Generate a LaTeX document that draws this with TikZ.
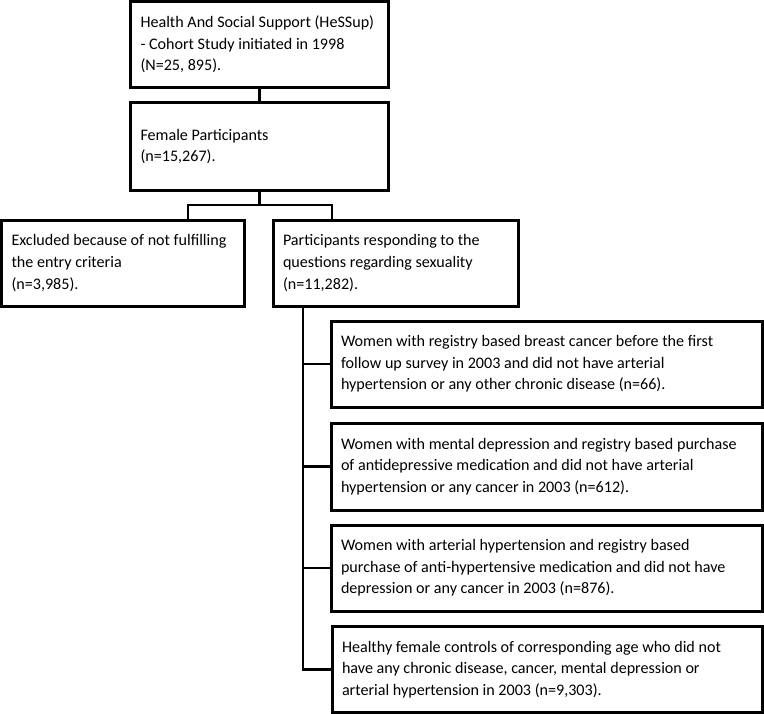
\documentclass[tikz,border=0pt]{standalone}
\usepackage{fontspec}
\setmainfont{Carlito}
\begin{document}
\begin{tikzpicture}[x=1bp,y=-1bp,
  box/.style={draw,line width=3bp,outer sep=0pt,anchor=north west,align=flush left,
    inner xsep=10bp,inner ysep=0pt,font=\fontsize{16.1bp}{21.6bp}\selectfont},
  link/.style={line width=2.6bp}]
\useasboundingbox (0,0) rectangle (764,714);

\node[box,text width=238bp,minimum height=86bp] (hessup) at (130.5,1.5)
  {Health And Social Support (HeSSup)\\- Cohort Study initiated in 1998\\(N=25, 895).};
\node[box,text width=238bp,minimum height=87bp] (female) at (130.5,103)
  {Female Participants\\(n=15,267).};

\node[box,text width=222.5bp,minimum height=86bp] (excl) at (1.5,220)
  {Excluded because of not fulfilling\\the entry criteria\\(n=3,985).};
\node[box,text width=225bp,minimum height=86bp] (resp) at (273,220)
  {Participants responding to the\\questions regarding sexuality\\(n=11,282).};

\node[box,text width=411.5bp,minimum height=86bp] (bc) at (331,321)
  {Women with registry based breast cancer before the first\\follow up survey in 2003 and did not have arterial\\hypertension or any other chronic disease (n=66).};
\node[box,text width=411.5bp,minimum height=87bp] (dep) at (331,423)
  {Women with mental depression and registry based purchase\\of antidepressive medication and did not have arterial\\hypertension or any cancer in 2003 (n=612).};
\node[box,text width=411.5bp,minimum height=86bp] (hyp) at (331,525)
  {Women with arterial hypertension and registry based\\purchase of anti-hypertensive medication and did not have\\depression or any cancer in 2003 (n=876).};
\node[box,text width=410.5bp,minimum height=86bp] (ctrl) at (332,626.5)
  {Healthy female controls of corresponding age who did not\\have any chronic disease, cancer, mental depression or\\arterial hypertension in 2003 (n=9,303).};

\coordinate (split) at (259.5,205);
\coordinate (dropL) at (188,205);
\coordinate (dropR) at (332,205);
\coordinate (spine) at (303,306);

\draw[link] (hessup) -- (female);
\draw[link] (female) -- (split);
\draw[link] (dropL |- excl.north) -- (dropL) -- (dropR) -- (dropR |- resp.north);

\draw[link] (spine) |- (ctrl.west);
\foreach \n in {bc,dep,hyp}
  \draw[link] (spine |- \n.west) -- (\n.west);
\end{tikzpicture}
\end{document}
